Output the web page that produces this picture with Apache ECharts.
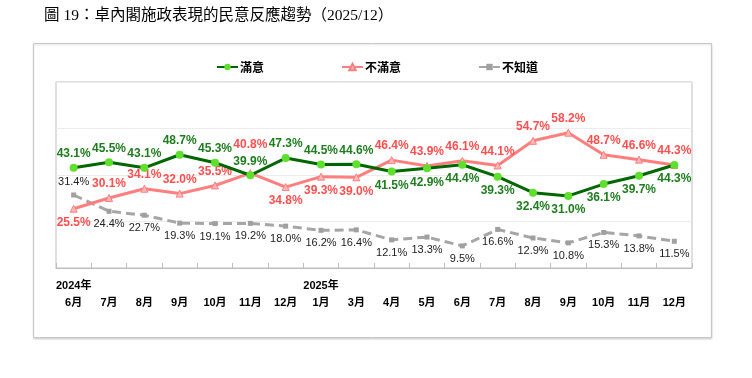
<!DOCTYPE html>
<html>
<head>
<meta charset="utf-8">
<script src="https://cdn.jsdelivr.net/npm/echarts@6/dist/echarts.min.js"></script>
<style>
html,body{margin:0;padding:0;background:#fff;}
#chart{width:752px;height:378px;}
</style>
</head>
<body>
<div id="chart"></div>
<script>
// ---- data ----
const months = ['6月','7月','8月','9月','10月','11月','12月','1月','3月','4月','5月','6月','7月','8月','9月','10月','11月','12月'];
const yearLabels = ['2024年','','','','','','','2025年','','','','','','','','','',''];
const satisfied = [43.1,45.5,43.1,48.7,45.3,39.9,47.3,44.5,44.6,41.5,42.9,44.4,39.3,32.4,31.0,36.1,39.7,44.3];
const dissatisfied = [25.5,30.1,34.1,32.0,35.5,40.8,34.8,39.3,39.0,46.4,43.9,46.1,44.1,54.7,58.2,48.7,46.6,44.3];
const unknown = [31.4,24.4,22.7,19.3,19.1,19.2,18.0,16.2,16.4,12.1,13.3,9.5,16.6,12.9,10.8,15.3,13.8,11.5];
const seriesNames = ['滿意','不滿意','不知道'];
const titleText = '圖 19：卓內閣施政表現的民意反應趨勢（2025/12）';

// ---- label placement (style) ----
const greenBelow = [9,10,11,12,13,14,15,16,17];
const redBelow = [0,6,7,8];
const redRaised = [5];
const grayAbove = [0];

function withPos(arr, test, raised) {
  return arr.map((v, i) => {
    const lab = { position: test(i) ? 'bottom' : 'top' };
    if (raised && raised.includes(i)) lab.distance = 18;
    return { value: v, label: lab };
  });
}
const fmt = p => Number(p.value).toFixed(1) + '%';

const chart = echarts.init(document.getElementById('chart'), null, { renderer: 'canvas' });
chart.setOption({
  animation: false,
  backgroundColor: '#fff',
  title: {
    text: titleText,
    left: 39, top: 3,
    textStyle: { fontSize: 15.5, fontWeight: 'normal', color: '#000', fontFamily: '"Liberation Serif","Noto Sans CJK TC",serif' }
  },
  graphic: [{
    type: 'rect', silent: true, z: -1,
    shape: { x: 33.5, y: 43.5, width: 678, height: 294 },
    style: { fill: '#fff', stroke: '#c8c8c8', lineWidth: 1, shadowColor: 'rgba(0,0,0,0.15)', shadowBlur: 2, shadowOffsetY: 1 }
  }],
  legend: {
    left: 211, top: 56,
    itemWidth: 21, itemHeight: 8, itemGap: 77,
    textStyle: { fontSize: 12, color: '#000', fontWeight: 'bold', fontFamily: '"Noto Sans CJK TC",sans-serif', padding: [0,0,0,-3] },
    data: seriesNames
  },
  grid: {
    left: 56, right: 60, top: 82, bottom: 110,
    show: true, borderColor: '#bfbfbf', borderWidth: 1
  },
  xAxis: {
    type: 'category',
    data: months,
    boundaryGap: true,
    axisLine: { lineStyle: { color: '#bfbfbf' } },
    axisTick: { show: true, inside: true, length: 5, lineStyle: { color: '#bfbfbf' } },
    axisLabel: {
      interval: 0, margin: 9,
      formatter: (v, i) => '{y|' + (yearLabels[i] || ' ') + '}\n{m|' + v + '}',
      rich: {
        y: { fontSize: 11, fontWeight: 'bold', color: '#000', lineHeight: 17, fontFamily: '"Liberation Sans Narrow","Liberation Sans","Noto Sans CJK TC",sans-serif' },
        m: { fontSize: 11, fontWeight: 'bold', color: '#000', lineHeight: 17, fontFamily: '"Liberation Sans Narrow","Liberation Sans","Noto Sans CJK TC",sans-serif' }
      }
    }
  },
  yAxis: {
    type: 'value', min: 0, max: 80, interval: 20,
    axisLabel: { show: false },
    axisLine: { show: false },
    axisTick: { show: false },
    splitLine: { lineStyle: { color: '#ececec' } }
  },
  series: [
    {
      name: seriesNames[0], type: 'line', z: 3,
      data: withPos(satisfied, i => greenBelow.includes(i)),
      symbol: 'circle', symbolSize: 8,
      lineStyle: { color: '#006600', width: 3 },
      itemStyle: { color: '#5ee02c' },
      label: { show: true, formatter: fmt, color: '#1e7d1e', fontWeight: 'bold', fontSize: 12, distance: 4, fontFamily: '"Liberation Sans",Arial,sans-serif' }
    },
    {
      name: seriesNames[1], type: 'line', z: 2,
      data: withPos(dissatisfied, i => redBelow.includes(i), redRaised),
      symbol: 'triangle', symbolSize: 7,
      lineStyle: { color: '#ff7f7f', width: 3 },
      itemStyle: { color: '#ffb8b8', borderColor: '#ff7f7f', borderWidth: 1 },
      label: { show: true, formatter: fmt, color: '#ff4f4f', fontWeight: 'bold', fontSize: 12, distance: 4, fontFamily: '"Liberation Sans",Arial,sans-serif' }
    },
    {
      name: seriesNames[2], type: 'line', z: 1,
      data: withPos(unknown, i => !grayAbove.includes(i)),
      symbol: 'rect', symbolSize: 5,
      lineStyle: { color: '#a6a6a6', width: 3, type: [9, 5] },
      itemStyle: { color: '#a0a0a0' },
      label: { show: true, formatter: fmt, color: '#222', fontWeight: 'normal', fontSize: 11, distance: 5, fontFamily: '"Liberation Sans",Arial,sans-serif' }
    }
  ]
});
</script>
</body>
</html>
